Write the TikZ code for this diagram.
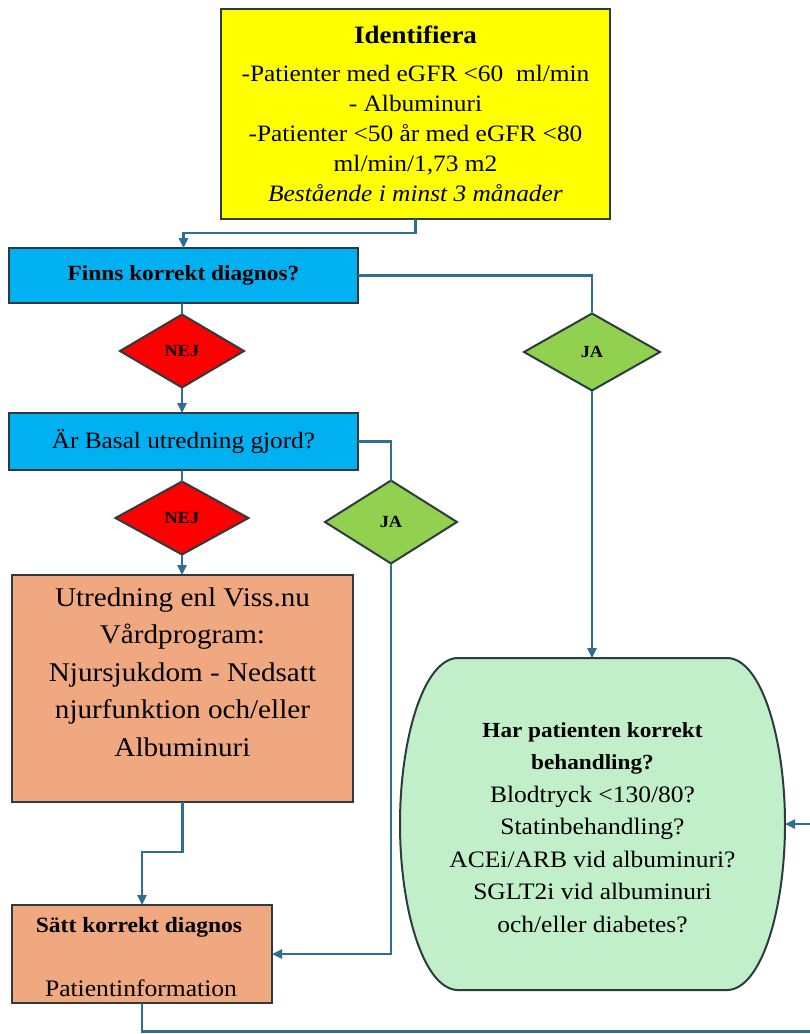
\documentclass[tikz,border=0pt]{standalone}
\usepackage{fontspec}
\setmainfont{Liberation Serif}[FakeStretch=1.08]
\usetikzlibrary{shapes.geometric,arrows.meta}
\definecolor{yelfill}{HTML}{FFFF00}
\definecolor{bluefill}{HTML}{00B0F0}
\definecolor{redfill}{HTML}{FF0000}
\definecolor{greenfill}{HTML}{92D050}
\definecolor{orangefill}{HTML}{EFA87F}
\definecolor{treatfill}{HTML}{C1EFC9}
\definecolor{bordercol}{HTML}{2E3B3E}
\definecolor{linecol}{HTML}{2F6E93}
\tikzset{
  every node/.style={inner sep=0pt, outer sep=0pt},
  box/.style={rectangle, draw=bordercol, line width=2.2pt},
  dia/.style={diamond, draw=bordercol, line width=2pt, inner sep=0pt, font=\bfseries\fontsize{17}{20}\selectfont},
  conn/.style={draw=linecol, line width=2.4pt},
  arr/.style={conn, -{Triangle[length=10pt,width=9pt]}},
}
\begin{document}
\begin{tikzpicture}[x=1pt,y=-1pt]
\useasboundingbox (0,0) rectangle (810,1034);
\fill[white] (0,0) rectangle (810,1034);

% boxes
\node[box, fill=yelfill, minimum width=389pt, minimum height=210pt, align=center, font=\fontsize{23.5}{30}\selectfont] (ident) at (415.5,114)
 {{\bfseries\fontsize{25}{30}\selectfont Identifiera}\\[8pt]-Patienter med eGFR <60\ \ ml/min\\- Albuminuri\\-Patienter <50 år med eGFR <80\\ml/min/1,73 m2\\\textit{Bestående i minst 3 månader}};

\node[box, fill=bluefill, minimum width=349pt, minimum height=55pt, font=\bfseries\fontsize{21.6}{26}\selectfont] (q1) at (183.5,275.5) {Finns korrekt diagnos?};
\node[box, fill=bluefill, minimum width=349pt, minimum height=57pt, font=\fontsize{23.4}{28}\selectfont] (q2) at (183.5,441.5) {Är Basal utredning gjord?};

\node[dia, fill=redfill, minimum width=124pt, minimum height=73pt] (nej1) at (182,351) {NEJ};
\node[dia, fill=greenfill, minimum width=136pt, minimum height=77pt] (ja1) at (592,352) {JA};
\node[dia, fill=redfill, minimum width=133pt, minimum height=73pt] (nej2) at (182,518) {NEJ};
\node[dia, fill=greenfill, minimum width=132pt, minimum height=83pt] (ja2) at (391,522) {JA};

\node[box, fill=orangefill, minimum width=341pt, minimum height=227pt] (utr) at (182.5,688.5) {};
\node[align=center, font=\fontsize{27}{37.5}\selectfont] (utrtext) at (182.5,672)
 {Utredning enl Viss.nu\\Vårdprogram:\\Njursjukdom - Nedsatt\\njurfunktion och/eller\\Albuminuri};

\node[box, fill=orangefill, minimum width=260pt, minimum height=98pt] (sett) at (142,954) {};
\node[font=\bfseries\fontsize{21.8}{26}\selectfont] (setttitle) at (139,927) {Sätt korrekt diagnos};
\node[font=\fontsize{23.7}{28}\selectfont] (settinfo) at (141,988) {Patientinformation};

% treatment shape
\node[minimum width=385pt, minimum height=332pt] (treat) at (592.5,824) {};
\draw[draw=bordercol, line width=2pt, fill=treatfill]
  (457,658) -- (728,658) .. controls (762,660) and (785,740) .. (785,824)
  .. controls (785,908) and (762,988) .. (728,990) -- (457,990)
  .. controls (423,988) and (400,908) .. (400,824)
  .. controls (400,740) and (423,660) .. (457,658) -- cycle;
\node[align=center, font=\fontsize{23.6}{32.5}\selectfont] (treattext) at (592.5,827.5)
 {{\bfseries\fontsize{21.5}{32.5}\selectfont Har patienten korrekt}\\{\bfseries\fontsize{21.5}{32.5}\selectfont behandling?}\\Blodtryck <130/80?\\Statinbehandling?\\ACEi/ARB vid albuminuri?\\SGLT2i vid albuminuri\\och/eller diabetes?};

% connectors
\draw[arr] (ident.south) -- ++(0,14) -| (q1.north);
\draw[conn] (q1.east) -| (ja1.north);
\draw[conn] (nej1.north |- q1.south) -- (nej1.north);
\draw[arr] (nej1.south) -- (nej1.south |- q2.north);
\draw[arr] (ja1.south) -- (ja1.south |- treat.north);
\draw[conn] (q2.east) -| (ja2.north);
\draw[conn] (nej2.north |- q2.south) -- (nej2.north);
\draw[arr] (nej2.south) -- (nej2.south |- utr.north);
\draw[arr] (ja2.south) |- (sett.east);
\draw[arr] (utr.south) -- ++(0,50) -| (sett.north);
\coordinate (back) at (812,1031.5);
\draw[arr] (sett.south) |- (back) |- (treat.east);
\end{tikzpicture}
\end{document}
